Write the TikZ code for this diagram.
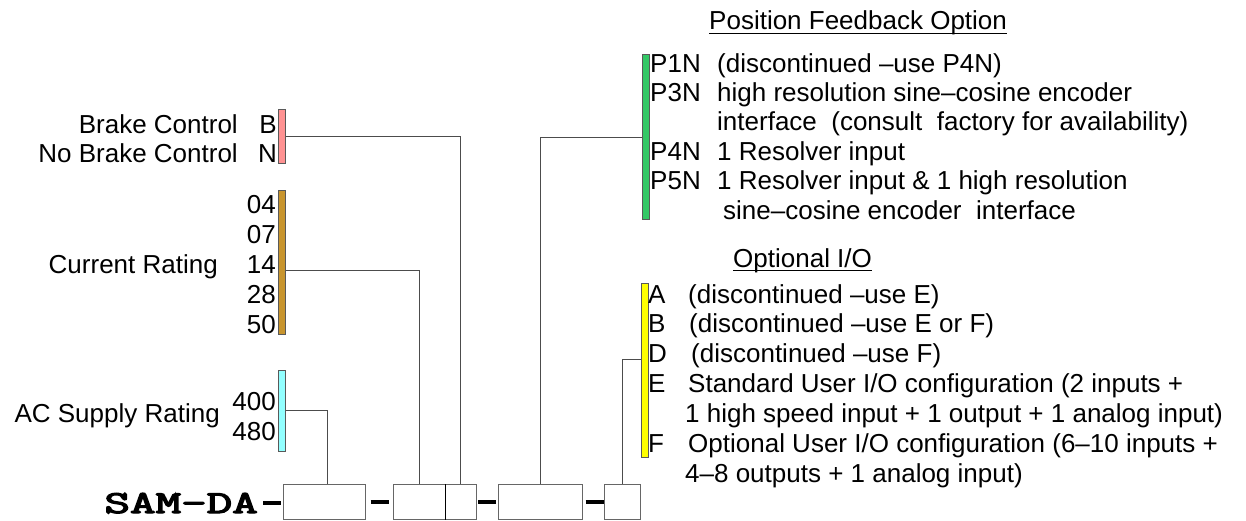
\documentclass[tikz,border=0pt]{standalone}
\usepackage{fontspec}
\setmainfont{Liberation Sans}
\newfontfamily\samfont[FakeBold=3.5]{Latin Modern Mono}
\definecolor{brakepink}{RGB}{255,146,146}
\definecolor{ratebrown}{RGB}{200,149,46}
\definecolor{supplycyan}{RGB}{146,255,255}
\definecolor{feedbackgreen}{RGB}{51,200,102}
\definecolor{ioyellow}{RGB}{255,255,0}
\newcommand\labelsize{\fontsize{26pt}{29.5pt}\selectfont}
\tikzset{
  code bar/.style={draw=black!65,line width=1pt,inner sep=0pt,minimum width=7pt},
  code box/.style={draw=black!60,line width=1pt,inner sep=0pt,minimum height=35pt},
  code link/.style={draw=black!70,line width=1pt},
  code dash/.style={draw=black,line width=3.5pt,shorten <=1.5pt,shorten >=1.5pt},
  code note/.style={inner sep=0pt,font=\labelsize,text=black},
  code under/.style={draw=black,line width=1pt}
}

\begin{document}
\begin{tikzpicture}[x=1pt,y=-1pt]
  \useasboundingbox (0,0) rectangle (1246,521);
  \node[code bar,fill=brakepink,minimum height=54pt] (brakebar) at (282,137) {};
  \node[code bar,fill=ratebrown,minimum height=143pt] (ratebar) at (282,262.5) {};
  \node[code bar,fill=supplycyan,minimum height=81pt] (supplybar) at (282,410.5) {};
  \node[code bar,fill=feedbackgreen,minimum height=165pt] (fbbar) at (645.5,137.5) {};
  \node[code bar,fill=ioyellow,minimum height=174pt] (iobar) at (644.5,370) {};
  \node[code note,anchor=base east] (brake) at (238,134) {Brake Control};
  \node[code note,anchor=base east] (nobrake) at (238,163) {No Brake Control};
  \node[code note,anchor=base east] (codeB) at (277,134) {B};
  \node[code note,anchor=base east] (codeN) at (277,163) {N};
  \node[code note,anchor=base east] (current) at (218,273.5) {Current Rating};
  \foreach \v [count=\i] in {04,07,14,28,50}
    \node[code note,anchor=base east] (r\v) at (276,{184.25+29.75*\i}) {\v};
  \node[code note,anchor=base east] (supply) at (220,422) {AC Supply Rating};
  \node[code note,anchor=base east] (v400) at (276,410) {400};
  \node[code note,anchor=base east] (v480) at (276,440) {480};
  \node[code note,anchor=base west] (fbtitle) at (709,30) {Position Feedback Option};
  \draw[code under] ([yshift=-3.5pt]fbtitle.base west) -- ([yshift=-3.5pt]fbtitle.base east);
  \foreach \c/\y in {P1N/73,P3N/102,P4N/161,P5N/190}
    \node[code note,anchor=base west] (fb\c) at (650,\y) {\c};
  \node[code note,anchor=base west] (fbtext1) at (717,73) {(discontinued –use P4N)};
  \node[code note,anchor=base west] (fbtext2) at (717,102) {high resolution sine–cosine encoder};
  \node[code note,anchor=base west] (fbtext3) at (717,131) {interface\ \ (consult\ \ factory for availability)};
  \node[code note,anchor=base west] (fbtext4) at (717,161) {1 Resolver input};
  \node[code note,anchor=base west] (fbtext5) at (717,190) {1 Resolver input \& 1 high resolution};
  \node[code note,anchor=base west] (fbtext6) at (723,220) {sine–cosine encoder\ \ interface};
  \node[code note,anchor=base west] (iotitle) at (733,267) {Optional I/O};
  \draw[code under] ([yshift=-3.5pt]iotitle.base west) -- ([yshift=-3.5pt]iotitle.base east);
  \foreach \c/\y in {A/303,B/332,D/362,E/392,F/452}
    \node[code note,anchor=base west] (io\c) at (648,\y) {\c};
  \node[code note,anchor=base west] (iotext1) at (688,303) {(discontinued –use E)};
  \node[code note,anchor=base west] (iotext2) at (689,332) {(discontinued –use E or F)};
  \node[code note,anchor=base west] (iotext3) at (691,362) {(discontinued –use F)};
  \node[code note,anchor=base west] (iotext4) at (688,392) {Standard User I/O configuration (2 inputs +};
  \node[code note,anchor=base west] (iotext5) at (685,422) {1 high speed input + 1 output + 1 analog input)};
  \node[code note,anchor=base west] (iotext6) at (688,452) {Optional User I/O configuration (6–10 inputs +};
  \node[code note,anchor=base west] (iotext7) at (685,482) {4–8 outputs + 1 analog input)};
  \node[code note,anchor=base east] (samda) at (258,513)
    {\scalebox{1.55}[1]{\fontsize{32pt}{32pt}\samfont SAM-DA}};
  \node[code box,minimum width=82pt] (box1) at (324,502) {};
  \node[code box,minimum width=52pt] (box2a) at (419,502) {};
  \node[code box,minimum width=31pt] (box2b) at (460.5,502) {};
  \node[code box,minimum width=84pt] (box3) at (540,502) {};
  \node[code box,minimum width=36pt] (box4) at (622,502) {};
  \draw[black,line width=1pt] (box2a.north east) -- (box2a.south east);
  \draw[code dash,shorten <=5pt] (samda.east) -- (samda.east -| box1.west);
  \draw[code dash,shorten <=5pt,shorten >=4pt] (box1.east) -- (box2a.west);
  \draw[code dash] (box2b.east) -- (box3.west);
  \draw[code dash,shorten <=3pt,shorten >=0pt] (box3.east) -- (box4.west);
  \draw[code link] (brakebar.east) -| (box2b.north);
  \draw[code link] (ratebar.east |- r14.mid) -| (box2a.north);
  \draw[code link] (supplybar.east) -| ([xshift=3pt]box1.north);
  \draw[code link] (fbbar.west) -| (box3.north);
  \draw[code link] (iobar.west |- ioD.mid) -| (box4.north);
\end{tikzpicture}
\end{document}
